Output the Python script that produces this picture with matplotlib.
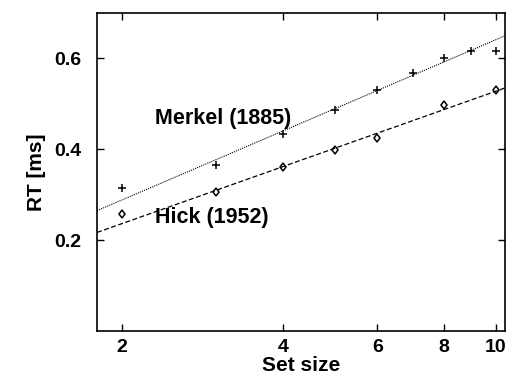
import numpy as np
import matplotlib
matplotlib.use("Agg")
import matplotlib.pyplot as plt
from matplotlib.ticker import FixedLocator, NullLocator, NullFormatter

# data
merkel_size = [2, 3, 4, 5, 6, 7, 8, 9, 10]
merkel_rt = [0.315, 0.365, 0.433, 0.487, 0.530, 0.567, 0.600, 0.617, 0.617]
hick_size = [2, 3, 4, 5, 6, 8, 10]
hick_rt = [0.257, 0.307, 0.361, 0.398, 0.424, 0.498, 0.530]
# fitted lines RT = a + b * ln(set size), as drawn in the reference
merkel_fit = [0.1366, 0.2192]
hick_fit = [0.1109, 0.1811]
x_ticks = [2, 4, 6, 8, 10]
y_ticks = [0.2, 0.4, 0.6]

plt.rcParams["font.family"] = ["Liberation Sans", "DejaVu Sans"]
plt.rcParams["font.weight"] = "bold"
plt.rcParams["axes.labelweight"] = "bold"

fig = plt.figure(figsize=(5.09, 3.77), dpi=100)
ax = fig.add_axes([0.1906, 0.122, 0.8016, 0.8435])

xlim = (1.796, 10.4)
xx = np.geomspace(xlim[0], xlim[1], 200)
ax.plot(xx, merkel_fit[0] + merkel_fit[1] * np.log(xx), color="black",
        linestyle=(0, (1, 1)), linewidth=0.8)
ax.plot(xx, hick_fit[0] + hick_fit[1] * np.log(xx), color="black",
        linestyle=(0, (4, 2)), linewidth=0.9)

ax.plot(merkel_size, merkel_rt, linestyle="none", marker="+", color="black",
        markersize=6, markeredgewidth=1.1)
ax.plot(hick_size, hick_rt, linestyle="none", marker="d", color="black",
        markerfacecolor="none", markersize=4.5, markeredgewidth=1.1)

ax.text(2.31, 0.467, "Merkel (1885)", fontsize=15.5, va="center", ha="left")
ax.text(2.31, 0.25, "Hick (1952)", fontsize=15.5, va="center", ha="left")

ax.set_xscale("log")
ax.set_xlim(*xlim)
ax.set_ylim(0, 0.7)
ax.xaxis.set_major_locator(FixedLocator(x_ticks))
ax.xaxis.set_minor_locator(NullLocator())
ax.xaxis.set_minor_formatter(NullFormatter())
ax.set_xticklabels([str(t) for t in x_ticks])
ax.set_yticks(y_ticks)
ax.set_yticklabels([f"{t:.1f}" for t in y_ticks])

ax.tick_params(direction="in", top=True, right=True, length=5, width=1,
               labelsize=14)
ax.tick_params(axis="y", pad=11)
ax.tick_params(axis="x", pad=6)
for s in ax.spines.values():
    s.set_linewidth(1.2)

ax.set_xlabel("Set size", fontsize=15, labelpad=0)
ax.set_ylabel("RT [ms]", fontsize=15, labelpad=6)

fig.savefig("out.png", dpi=100)
